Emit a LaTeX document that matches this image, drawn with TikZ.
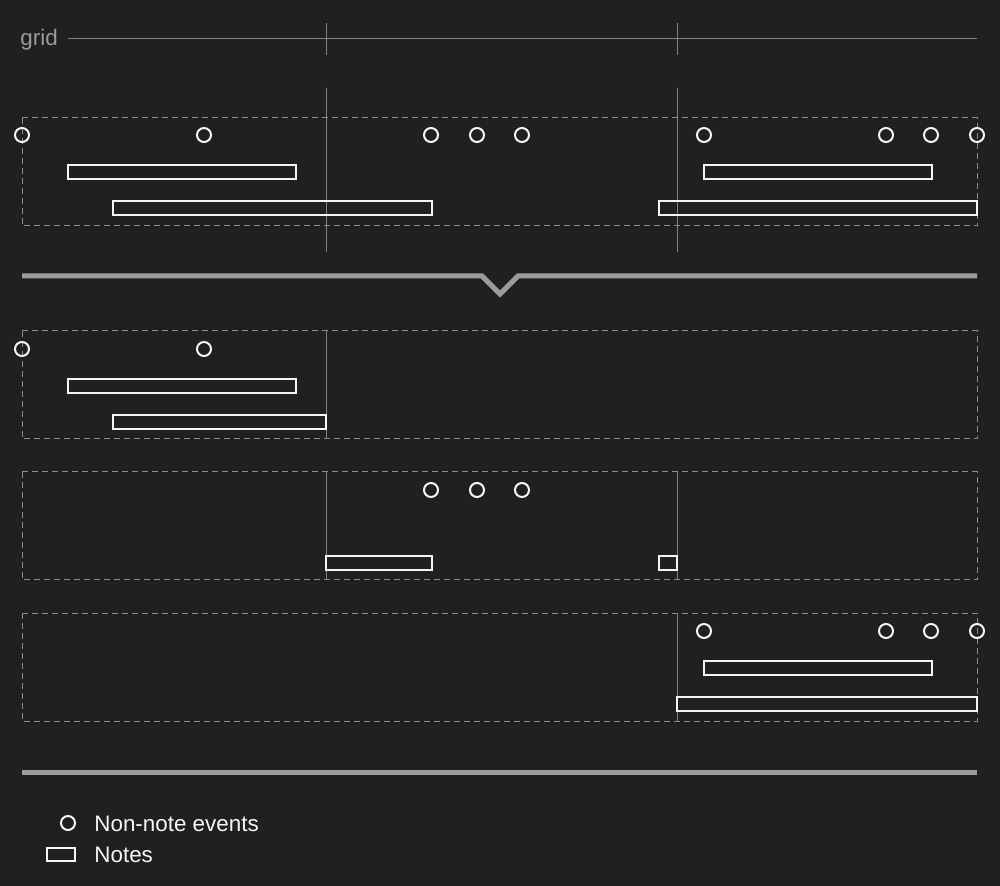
\documentclass[tikz,border=0pt]{standalone}
\usepackage{fontspec}
\setmainfont{Liberation Sans}
\definecolor{bg}{RGB}{33,32,31}
\definecolor{gridgray}{RGB}{130,130,130}
\definecolor{boxgray}{RGB}{140,140,140}
\definecolor{sepgray}{RGB}{155,155,155}
\definecolor{ink}{RGB}{245,245,245}
\begin{document}
\begin{tikzpicture}
        [x=0.5pt, y=-0.5pt,
        event/.style={circle,draw=ink,line width=1pt,minimum size=7pt,inner sep=0pt},
        note/.style={draw=ink,line width=1pt},
        region/.style={draw=boxgray,line width=0.5pt,dash pattern=on 3pt off 2pt},
        gridline/.style={draw=gridgray,line width=0.5pt},
        sep/.style={draw=sepgray,line width=2.5pt},
        label/.style={inner sep=0pt,anchor=base west,font=\fontsize{11.2}{13}\selectfont}]
        \fill[bg] (0,0) rectangle (1000,886);
        \useasboundingbox (0,0) rectangle (1000,886);

        % grid
        \node[label, text=sepgray] (gridlabel) at (20,46) {grid};
        \draw[gridline] (68,39) -- (977,39);
        \draw[gridline] (326,23) -- (326,55);
        \draw[gridline] (677,23) -- (677,55);

        % input
        \draw[gridline] (326,88) -- (326,252);
        \draw[gridline] (677,88) -- (677,252);
        \draw[region] (22,118) rectangle (977,226);
        \draw[note] (68,165) rectangle (296,179);
        \draw[note] (113,201) rectangle (432,215);
        \draw[note] (704,165) rectangle (932,179);
        \draw[note] (659,201) rectangle (977,215);
        \node[event] (a1) at (22,135) {};
        \node[event] (a2) at (204,135) {};
        \node[event] (a3) at (431,135) {};
        \node[event] (a4) at (477,135) {};
        \node[event] (a5) at (522,135) {};
        \node[event] (a6) at (704,135) {};
        \node[event] (a7) at (886,135) {};
        \node[event] (a8) at (931,135) {};
        \node[event] (a9) at (977,135) {};

        \draw[sep, line join=miter] (22,276) -- (482,276) -- (500,294) -- (518,276) -- (977,276);

        % slice 1
        \draw[gridline] (326,331) -- (326,439);
        \draw[region] (22,331) rectangle (977,439);
        \draw[note] (68,379) rectangle (296,393);
        \draw[note] (113,415) rectangle (326,429);
        \node[event] (b1) at (22,349) {};
        \node[event] (b2) at (204,349) {};

        % slice 2
        \draw[gridline] (326,472) -- (326,580);
        \draw[gridline] (677,472) -- (677,580);
        \draw[region] (22,472) rectangle (977,580);
        \draw[note] (326,556) rectangle (432,570);
        \draw[note] (659,556) rectangle (677,570);
        \node[event] (c1) at (431,490) {};
        \node[event] (c2) at (477,490) {};
        \node[event] (c3) at (522,490) {};

        % slice 3
        \draw[gridline] (677,613) -- (677,721);
        \draw[region] (22,613) rectangle (977,721);
        \draw[note] (704,661) rectangle (932,675);
        \draw[note] (677,697) rectangle (977,711);
        \node[event] (d1) at (704,631) {};
        \node[event] (d2) at (886,631) {};
        \node[event] (d3) at (931,631) {};
        \node[event] (d4) at (977,631) {};

        \draw[sep] (22,772) -- (977,772);

        % legend
        \node[event] (keyevent) at (68,823) {};
        \node[label, text=ink] (keyeventtext) at (94,831) {Non-note events};
        \draw[note] (47,848) rectangle (75,861);
        \node[label, text=ink] (keynotetext) at (94,862) {Notes};
    \end{tikzpicture}
\end{document}
